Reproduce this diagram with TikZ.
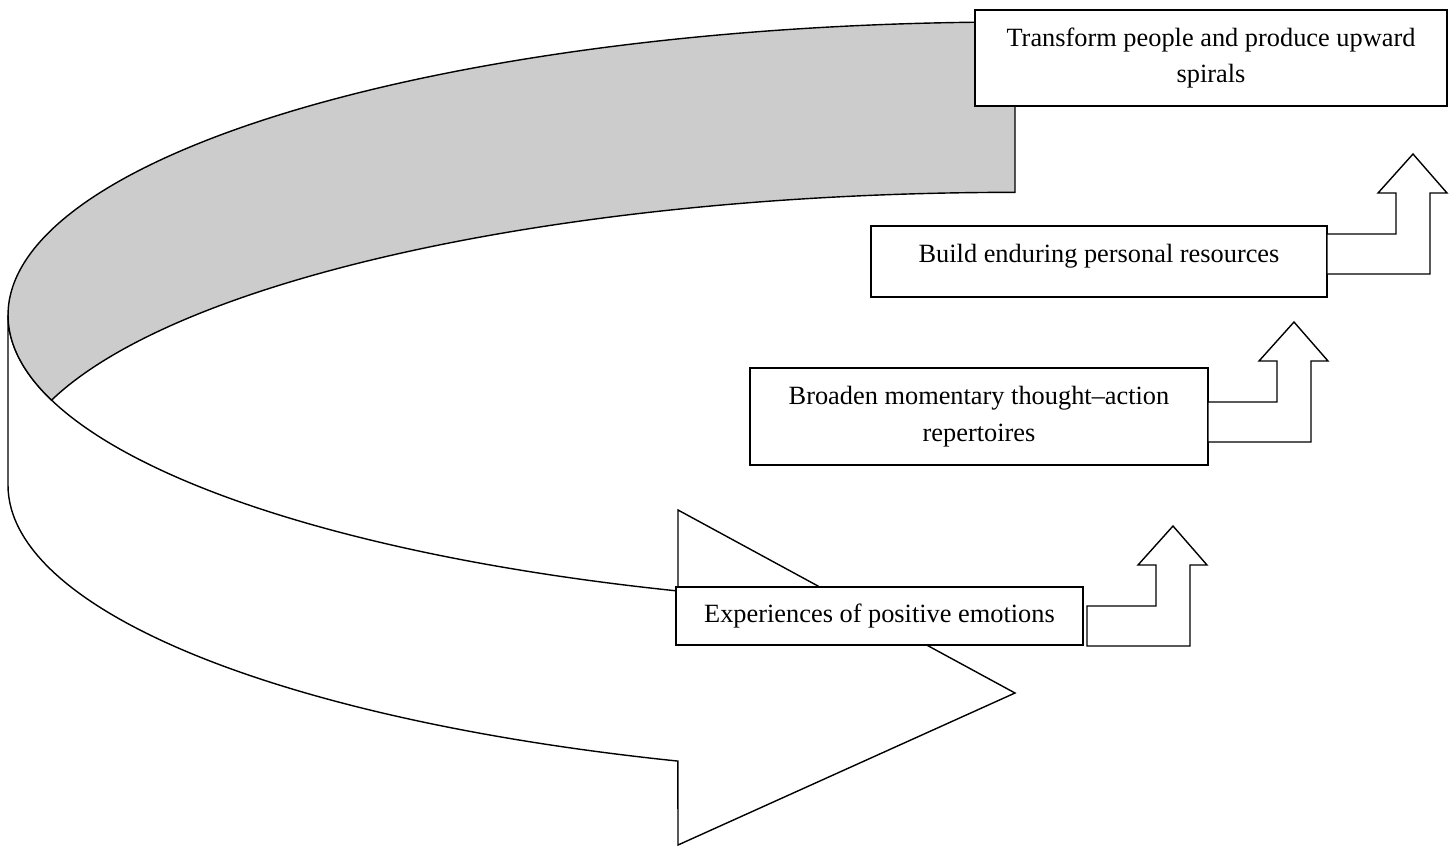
\documentclass[tikz,border=0pt]{standalone}
\usepackage{fontspec}
\setmainfont{Liberation Serif}
\begin{document}
\begin{tikzpicture}[x=0.02cm,y=-0.02cm,
  shapeline/.style={draw=black, line width=0.8pt, line join=miter},
  bandfill/.style={shapeline, fill=white},
  backfill/.style={shapeline, fill=black!20},
  box/.style={draw=black, line width=1.1pt, fill=white, inner sep=0pt, outer sep=0pt,
    align=center, font=\fontsize{15}{21}\selectfont},
  bentup/.pic={\draw[shapeline, fill=white] (0,0) -- (0,-40) -- (69,-40) -- (69,-81) -- (51,-81)
     -- (86,-120) -- (120,-81) -- (103,-81) -- (103,0) -- cycle;}]
\useasboundingbox (0,0) rectangle (1455,846);
% front band with arrow head
\draw[bandfill] (8,315) -- (8,485)
  arc[start angle=180, end angle=109.56, x radius=1007, y radius=293]
  -- (678,845) -- (1015,693) -- (678,510) -- (678,591)
  arc[start angle=109.56, end angle=180, x radius=1007, y radius=293];
% back (shaded) band
\draw[backfill] (1015,22)
  arc[start angle=270, end angle=163.1, x radius=1007, y radius=293]
  arc[start angle=196.9, end angle=270, x radius=1007, y radius=293]
  -- cycle;
% boxes
\node[box, minimum width=9.44cm, minimum height=1.92cm] (b1) at (1211,58)
  {Transform people and produce upward\\spirals};
\node[box, minimum width=9.12cm, minimum height=1.42cm, text depth=9pt] (b2) at (1099,261.5)
  {Build enduring personal resources};
\node[box, minimum width=9.16cm, minimum height=1.94cm] (b3) at (979,416.5)
  {Broaden momentary thought--action\\repertoires};
\node[box, minimum width=8.14cm, minimum height=1.16cm] (b4) at (879.5,616)
  {Experiences of positive emotions};
% bent-up arrows
\pic at (1087,646) {bentup};
\pic at (1208,442) {bentup};
\pic at (1327,274) {bentup};
\end{tikzpicture}
\end{document}
